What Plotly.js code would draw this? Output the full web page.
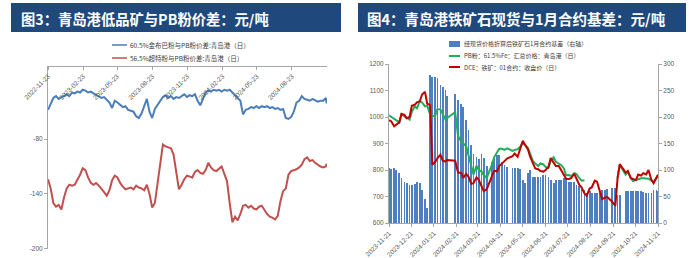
<!DOCTYPE html>
<html><head><meta charset="utf-8">
<script src="https://cdn.plot.ly/plotly-3.0.1.min.js"></script>
<style>html,body{margin:0;padding:0;background:#fff}#c{width:689px;height:258px}</style>
</head><body><div id="c"></div>
<script>
// ---------- Left chart (图3) ----------
const leftDates = [
'2022-11-23','2022-11-30','2022-12-07','2022-12-14','2022-12-21','2022-12-28',
'2023-01-04','2023-01-11','2023-01-18','2023-01-25','2023-02-01','2023-02-08','2023-02-15','2023-02-22',
'2023-03-01','2023-03-08','2023-03-15','2023-03-22','2023-03-29','2023-04-05','2023-04-12','2023-04-19','2023-04-26',
'2023-05-03','2023-05-10','2023-05-17','2023-05-24','2023-05-31','2023-06-07','2023-06-14','2023-06-21','2023-06-28',
'2023-07-05','2023-07-12','2023-07-19','2023-07-26','2023-08-02','2023-08-09','2023-08-16','2023-08-23','2023-08-30',
'2023-09-06','2023-09-13','2023-09-20','2023-09-27','2023-10-04','2023-10-11','2023-10-18','2023-10-25',
'2023-11-01','2023-11-08','2023-11-15','2023-11-22','2023-11-29','2023-12-06','2023-12-13','2023-12-20','2023-12-27',
'2024-01-03','2024-01-10','2024-01-17','2024-01-24','2024-01-31','2024-02-07','2024-02-14','2024-02-21','2024-02-28',
'2024-03-06','2024-03-13','2024-03-20','2024-03-27','2024-04-03','2024-04-10','2024-04-17','2024-04-24',
'2024-05-01','2024-05-08','2024-05-15','2024-05-22','2024-05-29','2024-06-05','2024-06-12','2024-06-19','2024-06-26',
'2024-07-03','2024-07-10','2024-07-17','2024-07-24','2024-07-31','2024-08-07','2024-08-14','2024-08-21','2024-08-28',
'2024-09-04','2024-09-11','2024-09-18','2024-09-25','2024-10-02','2024-10-09','2024-10-16','2024-10-23','2024-10-30',
'2024-11-06','2024-11-13','2024-11-20','2024-11-22'];
const spreadJinbuba = [
-48,-42,-35,-33,-36,-34,-33,-31,-33,-29,
-30,-28,-29,-26,-27,-29,-28,-30,-32,-33,
-35,-34,-37,-40,-46,-38,-40,-43,-45,-44,
-48,-49,-50,-55,-57,-52,-44,-36,-50,-57,
-47,-43,-38,-34,-32,-35,-33,-36,-34,-35,
-33,-31,-34,-32,-33,-31,-38,-43,-36,-29,
-27,-28,-26,-27,-26,-28,-26,-27,-26,-29,
-32,-34,-38,-53,-48,-47,-45,-46,-44,-46,
-44,-45,-44,-46,-45,-47,-46,-48,-47,-57,
-58,-56,-50,-40,-38,-33,-36,-37,-38,-36,
-38,-39,-38,-38,-35,-41];
const spreadSuperSpecial = [
-124,-134,-150,-154,-152,-157,-144,-134,-130,-131,
-130,-125,-119,-112,-114,-122,-128,-130,-128,-131,
-134,-138,-142,-136,-125,-120,-122,-128,-132,-135,
-134,-133,-135,-131,-133,-134,-136,-130,-140,-155,
-150,-128,-104,-86,-88,-89,-90,-97,-115,-135,
-130,-124,-120,-121,-122,-116,-114,-117,-118,-114,
-106,-111,-114,-115,-112,-110,-118,-126,-150,-171,
-165,-169,-162,-153,-152,-155,-153,-156,-157,-154,
-153,-158,-162,-165,-166,-168,-164,-148,-137,-134,
-119,-115,-114,-113,-111,-108,-102,-100,-104,-103,
-106,-108,-110,-111,-110,-107];
const leftTicks = ['2022-11-23','2023-02-23','2023-05-23','2023-08-23','2023-11-23','2024-02-23','2024-05-23','2024-08-23'];
const leftYTicks = [-200,-140,-80];
const leftNames = ['60.5%金布巴粉与PB粉价差:青岛港（日）','56.5%超特粉与PB粉价差:青岛港（日）'];

// ---------- Right chart (图4) ----------
const rightDates = [
'2023-11-21','2023-11-24','2023-11-28','2023-12-01','2023-12-05','2023-12-08','2023-12-12','2023-12-15','2023-12-19','2023-12-22',
'2023-12-26','2023-12-29','2024-01-02','2024-01-05','2024-01-09','2024-01-12','2024-01-16','2024-01-19','2024-01-23','2024-01-26',
'2024-01-30','2024-02-02','2024-02-06','2024-02-08','2024-02-19','2024-02-23','2024-02-27','2024-03-01','2024-03-05','2024-03-08',
'2024-03-12','2024-03-15','2024-03-19','2024-03-22','2024-03-26','2024-03-29','2024-04-02','2024-04-09','2024-04-12','2024-04-16',
'2024-04-19','2024-04-23','2024-04-26','2024-04-30','2024-05-07','2024-05-10','2024-05-14','2024-05-17','2024-05-21','2024-05-24',
'2024-05-28','2024-05-31','2024-06-04','2024-06-07','2024-06-11','2024-06-14','2024-06-18','2024-06-21','2024-06-25','2024-06-28',
'2024-07-02','2024-07-05','2024-07-09','2024-07-12','2024-07-16','2024-07-19','2024-07-23','2024-07-26','2024-07-30','2024-08-02',
'2024-08-06','2024-08-09','2024-08-13','2024-08-16','2024-08-20','2024-08-23','2024-08-27','2024-08-30','2024-09-03','2024-09-06',
'2024-09-10','2024-09-13','2024-09-19','2024-09-24','2024-09-27','2024-09-30','2024-10-08','2024-10-11','2024-10-15','2024-10-18',
'2024-10-22','2024-10-25','2024-10-29','2024-11-01','2024-11-05','2024-11-08','2024-11-12','2024-11-15','2024-11-19','2024-11-21'];
const basisJan = [
104,102,103,100,94,85,78,76,72,72,
73,78,75,62,45,28,279,276,275,273,
260,257,251,240,244,233,224,218,195,175,
148,130,124,120,130,122,108,116,122,128,
128,116,110,105,103,103,103,102,82,75,
95,100,87,87,87,87,91,91,87,81,
75,81,81,81,84,84,78,78,78,72,
69,66,62,57,60,57,57,57,60,62,
62,64,66,66,53,52,60,60,60,60,
60,60,60,58,57,57,57,62,62,60];
const pbPrice = [
1006,1000,994,985,980,1010,1004,998,990,1019,
1040,1033,1060,1055,1040,1042,1010,1002,1006,1030,
1028,1012,990,996,1018,928,908,900,890,858,
820,783,816,800,794,781,770,819,848,868,
880,880,876,882,872,876,878,886,902,895,
884,862,833,825,815,825,821,812,808,835,
848,831,825,819,806,780,781,777,788,785,
769,760,760,null,null,null,null,null,null,null,
null,null,null,null,770,819,783,792,770,758,
762,766,769,769,769,767,760,756,770,780];
const dcePrice = [
988,984,965,972,980,1012,1008,995,1000,1042,
1046,1055,1060,1085,1095,1050,1045,820,831,845,
858,835,832,838,835,790,790,770,785,775,
748,750,772,763,738,720,728,775,797,795,
815,825,835,844,852,862,850,880,910,895,
878,850,822,806,803,796,794,800,812,845,
828,815,815,800,781,767,766,770,786,765,
744,735,712,703,730,735,760,756,715,690,
696,698,682,665,770,822,790,797,769,766,
762,783,779,788,783,800,763,750,776,782];
const rightTicks = ['2023-11-21','2023-12-21','2024-01-21','2024-02-21','2024-03-21','2024-04-21','2024-05-21',
'2024-06-21','2024-07-21','2024-08-21','2024-09-21','2024-10-21','2024-11-21'];
const rightNames = ['经现货价格折算后铁矿石1月合约基差（右轴）','PB粉：61.5%Fe：汇总价格：青岛港（日）','DCE：铁矿：01合约：收盘价（日）'];

// ---------- Drawing ----------
const W=689,H=258;
const px=x=>x/W, py=y=>1-y/H;
const axisColor='#A6A6A6';
const tickFont={family:'Liberation Sans, Arial, sans-serif',size:6.5,color:'#595959'};
const cjk='Noto Sans CJK SC, sans-serif';
const cBlue='#4A7EBB', cRed='#C0504D', cBar='#4F7FC0', cGreen='#1FAE5A', cDce='#C00000';

const traces=[
 {type:'scatter',mode:'lines',x:leftDates,y:spreadJinbuba,xaxis:'x',yaxis:'y',line:{color:cBlue,width:2},name:leftNames[0]},
 {type:'scatter',mode:'lines',x:leftDates,y:spreadSuperSpecial,xaxis:'x',yaxis:'y',line:{color:cRed,width:2},name:leftNames[1]},
 {type:'bar',x:rightDates,y:basisJan,xaxis:'x2',yaxis:'y2',marker:{color:cBar,line:{width:0}},width:2.4*86400000,name:rightNames[0]},
 {type:'scatter',mode:'lines',x:rightDates,y:pbPrice,xaxis:'x2',yaxis:'y3',line:{color:cGreen,width:2},connectgaps:false,name:rightNames[1]},
 {type:'scatter',mode:'lines',x:rightDates,y:dcePrice,xaxis:'x2',yaxis:'y3',line:{color:cDce,width:2},name:rightNames[2]}
];

const baseAxis={showline:true,linecolor:axisColor,linewidth:1,ticks:'outside',ticklen:3,tickcolor:axisColor,showgrid:false,zeroline:false,tickfont:tickFont,fixedrange:true};

const layout={
 width:W,height:H,margin:{l:0,r:0,t:0,b:0,pad:0},paper_bgcolor:'#fff',plot_bgcolor:'rgba(0,0,0,0)',showlegend:false,
 bargap:0,
 xaxis:Object.assign({},baseAxis,{domain:[px(48),px(327)],type:'date',range:['2022-11-23','2024-11-23'],anchor:'free',position:py(66),side:'bottom',
   tickvals:leftTicks,ticktext:leftTicks,tickangle:-45}),
 yaxis:Object.assign({},baseAxis,{domain:[py(248.7),py(66)],range:[-200,0],anchor:'x',tickvals:leftYTicks,ticktext:leftYTicks.map(String)}),
 xaxis2:Object.assign({},baseAxis,{domain:[px(389),px(658)],type:'date',range:['2023-11-21','2024-11-21'],anchor:'y2',
   tickvals:rightTicks,ticktext:rightTicks,tickangle:-45}),
 yaxis2:Object.assign({},baseAxis,{domain:[py(223),py(64)],range:[0,300],dtick:50,tick0:0,side:'right',anchor:'x2'}),
 yaxis3:Object.assign({},baseAxis,{range:[600,1200],dtick:100,tick0:600,side:'left',anchor:'x2',overlaying:'y2'}),
 shapes:[
  {type:'rect',xref:'paper',yref:'paper',x0:px(11),x1:px(341),y0:py(32),y1:py(3),fillcolor:'#1F497D',line:{width:0},layer:'below'},
  {type:'rect',xref:'paper',yref:'paper',x0:px(358),x1:px(686),y0:py(32),y1:py(3),fillcolor:'#1F497D',line:{width:0},layer:'below'},
  {type:'line',xref:'paper',yref:'paper',x0:px(112),x1:px(127),y0:py(45),y1:py(45),line:{color:cBlue,width:1.5}},
  {type:'line',xref:'paper',yref:'paper',x0:px(112),x1:px(127),y0:py(58),y1:py(58),line:{color:cRed,width:1.5}},
  {type:'rect',xref:'paper',yref:'paper',x0:px(449),x1:px(460),y0:py(47),y1:py(41),fillcolor:cBar,line:{width:0}},
  {type:'line',xref:'paper',yref:'paper',x0:px(449),x1:px(460),y0:py(56),y1:py(56),line:{color:cGreen,width:2}},
  {type:'line',xref:'paper',yref:'paper',x0:px(449),x1:px(460),y0:py(67),y1:py(67),line:{color:cDce,width:2}}
 ],
 annotations:[
  {text:'<b>图3：青岛港低品矿与PB粉价差：元/吨</b>',xref:'paper',yref:'paper',x:px(19),y:py(18),xanchor:'left',yanchor:'middle',showarrow:false,font:{family:cjk,size:14.3,color:'#ffffff'}},
  {text:'<b>图4：青岛港铁矿石现货与1月合约基差：元/吨</b>',xref:'paper',yref:'paper',x:px(365),y:py(18),xanchor:'left',yanchor:'middle',showarrow:false,font:{family:cjk,size:14.5,color:'#ffffff'}},
  {text:leftNames[0],xref:'paper',yref:'paper',x:px(128),y:py(45),xanchor:'left',yanchor:'middle',showarrow:false,font:{family:cjk,size:6.5,color:'#404040'}},
  {text:leftNames[1],xref:'paper',yref:'paper',x:px(128),y:py(58),xanchor:'left',yanchor:'middle',showarrow:false,font:{family:cjk,size:6.5,color:'#404040'}},
  {text:rightNames[0],xref:'paper',yref:'paper',x:px(462),y:py(44),xanchor:'left',yanchor:'middle',showarrow:false,font:{family:cjk,size:6,color:'#404040'}},
  {text:rightNames[1],xref:'paper',yref:'paper',x:px(462),y:py(56),xanchor:'left',yanchor:'middle',showarrow:false,font:{family:cjk,size:6,color:'#404040'}},
  {text:rightNames[2],xref:'paper',yref:'paper',x:px(462),y:py(67),xanchor:'left',yanchor:'middle',showarrow:false,font:{family:cjk,size:6,color:'#404040'}}
 ]
};

Plotly.newPlot('c',traces,layout,{staticPlot:true,displayModeBar:false});
</script>
</body></html>
